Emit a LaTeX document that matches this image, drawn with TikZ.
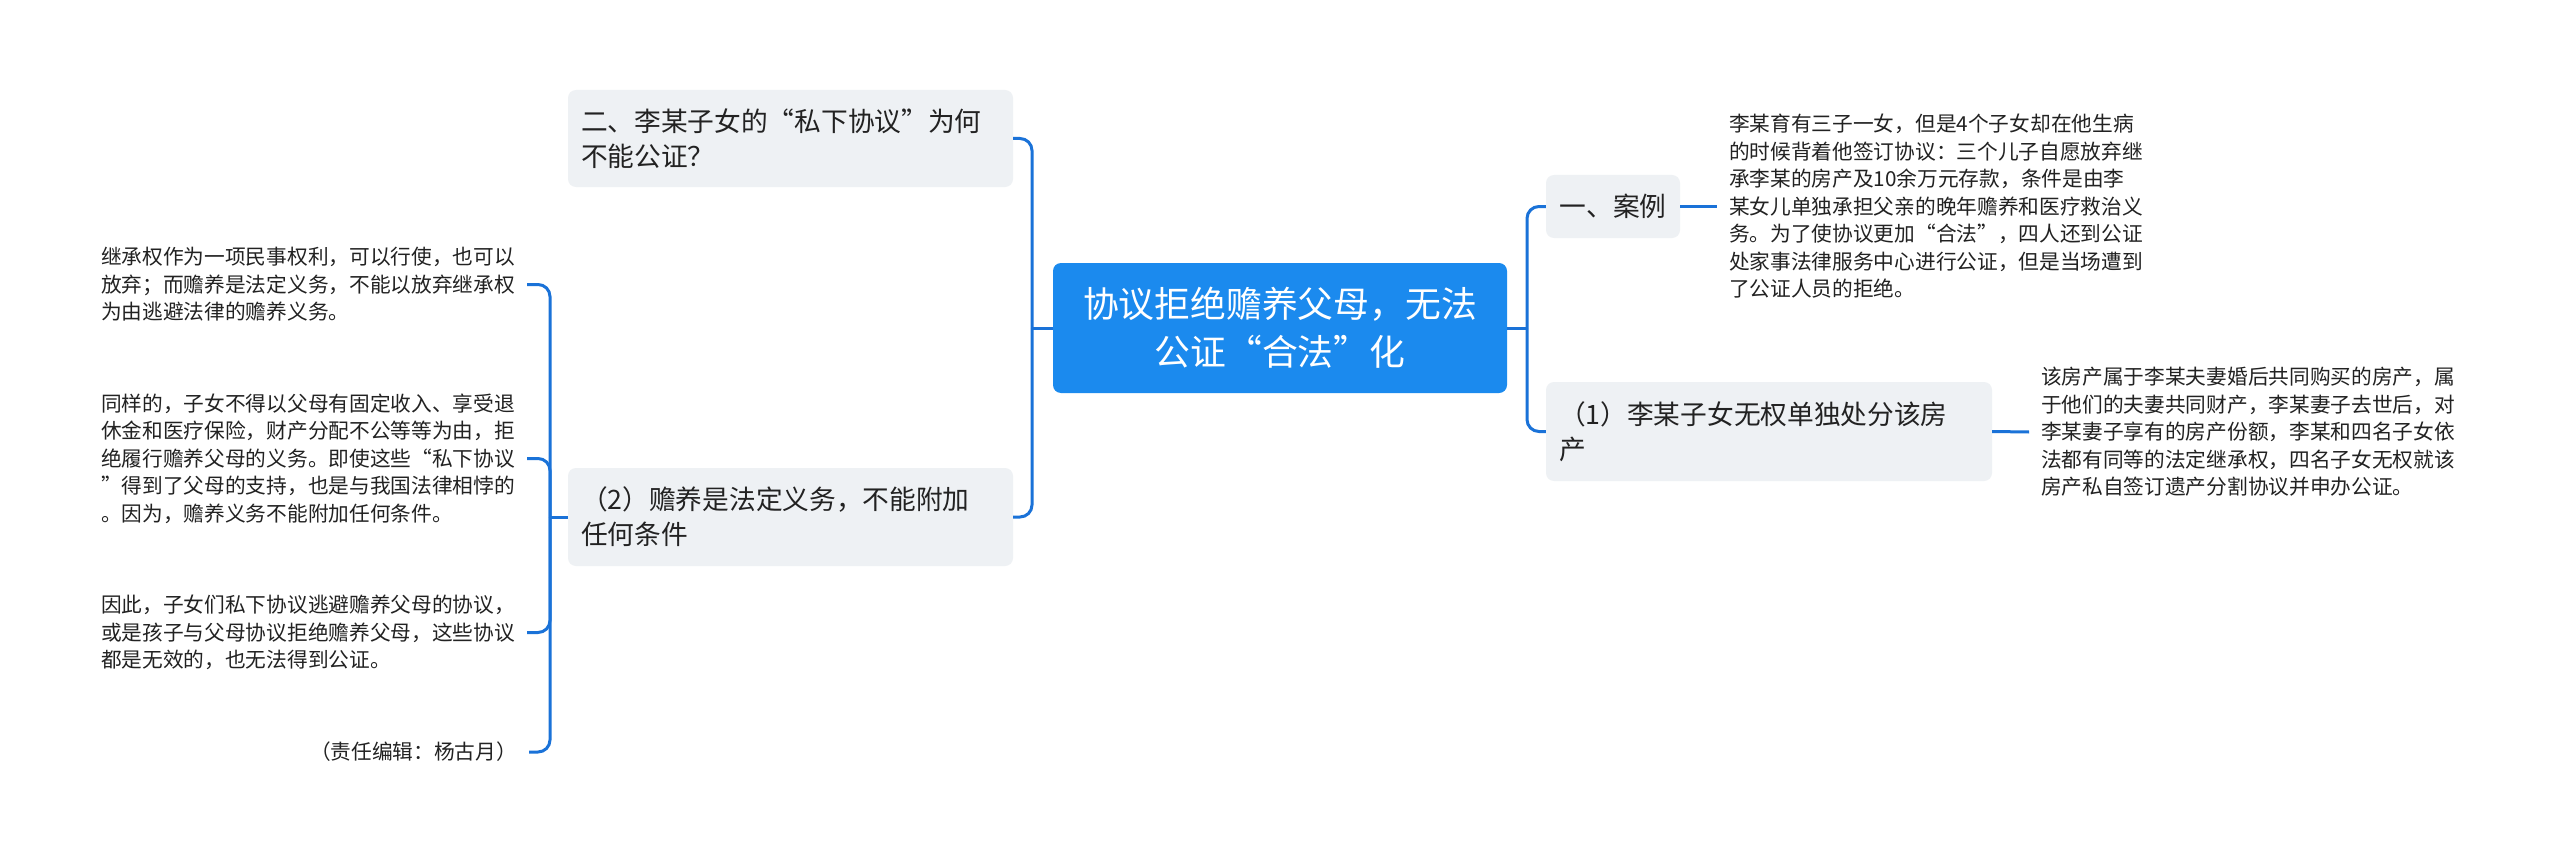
\documentclass[tikz,border=0pt]{standalone}
\usepackage{fontspec}
\setmainfont{Noto Sans CJK SC}
\definecolor{rootc}{HTML}{1B8AEE}
\definecolor{linec}{HTML}{1A72D8}
\definecolor{boxc}{HTML}{EEF1F4}
\definecolor{txtc}{HTML}{222222}
\tikzset{
  conn/.style={draw=linec, line width=3pt, rounded corners=12pt},
  rootbox/.style={fill=rootc, rounded corners=8pt, text=white, font=\fontsize{35.8}{48}\selectfont, align=center, minimum width=454pt, minimum height=130pt, inner sep=0pt},
  topicbox/.style={fill=boxc, rounded corners=8pt, text=txtc, font=\fontsize{26.7}{35}\selectfont, align=left, inner xsep=13pt, inner ysep=0pt},
  leaftext/.style={text=txtc, font=\fontsize{20.7}{27.5}\selectfont, align=left, inner sep=0pt, outer xsep=12pt, outer ysep=0pt},
}
\begin{document}
\begin{tikzpicture}[x=1pt, y=-1pt]
\useasboundingbox[fill=white] (0,0) rectangle (2560,864);

\node[rootbox] (root) at (1280,328) {协议拒绝赡养父母，无法\\公证“合法”化};

% left topics
\node[topicbox, minimum width=445pt, minimum height=97pt, text width=419pt] (q2) at (790.5,138.5) {二、李某子女的“私下协议”为何\\不能公证？};
\node[topicbox, minimum width=445pt, minimum height=98pt, text width=419pt] (p2) at (790.5,517) {（2）赡养是法定义务，不能附加\\任何条件};

% right topics
\node[topicbox, minimum width=134pt, minimum height=63pt, align=center] (case) at (1613,206.5) {一、案例};
\node[topicbox, minimum width=446pt, minimum height=99pt, text width=420pt] (p1) at (1769,431.5) {（1）李某子女无权单独处分该房\\产};

% left leaves
\node[leaftext, anchor=west] (l1) at (89,284.5) {继承权作为一项民事权利，可以行使，也可以\\放弃；而赡养是法定义务，不能以放弃继承权\\为由逃避法律的赡养义务。};
\node[leaftext, anchor=west] (l2) at (89,458.5) {同样的，子女不得以父母有固定收入、享受退\\休金和医疗保险，财产分配不公等等为由，拒\\绝履行赡养父母的义务。即使这些“私下协议\\”得到了父母的支持，也是与我国法律相悖的\\。因为，赡养义务不能附加任何条件。};
\node[leaftext, anchor=west] (l3) at (89,632.5) {因此，子女们私下协议逃避赡养父母的协议，\\或是孩子与父母协议拒绝赡养父母，这些协议\\都是无效的，也无法得到公证。};
\node[leaftext, anchor=east, align=right] (ed) at (529,752) {（责任编辑：杨古月）};

% right leaves
\node[leaftext, anchor=west] (r1) at (1717,206.5) {李某育有三子一女，但是4个子女却在他生病\\的时候背着他签订协议：三个儿子自愿放弃继\\承李某的房产及10余万元存款，条件是由李\\某女儿单独承担父亲的晚年赡养和医疗救治义\\务。为了使协议更加“合法”，四人还到公证\\处家事法律服务中心进行公证，但是当场遭到\\了公证人员的拒绝。};
\node[leaftext, anchor=west] (r2) at (2029,432) {该房产属于李某夫妻婚后共同购买的房产，属\\于他们的夫妻共同财产，李某妻子去世后，对\\李某妻子享有的房产份额，李某和四名子女依\\法都有同等的法定继承权，四名子女无权就该\\房产私自签订遗产分割协议并申办公证。};

% connectors: root
\coordinate (lj) at (1032,328);
\coordinate (rj) at (1527,328);
\draw[conn] (root.west) -- (lj);
\draw[conn] (lj) |- (q2.east);
\draw[conn] (lj) |- (p2.east);
\draw[conn] (root.east) -- (rj);
\draw[conn] (rj) |- (case.west);
\draw[conn] (rj) |- (p1.west);

% connectors: p2 children
\coordinate (lj2) at (550,517);
\draw[conn] (p2.west) -- (lj2);
\draw[conn] (lj2) |- (l1.east);
\draw[conn] (lj2) |- (l2.east);
\draw[conn] (lj2) |- (l3.east);
\draw[conn] (lj2) |- (ed.east);

% connectors: right leaves
\draw[conn] (case.east) -- (r1.west);
\draw[conn] (p1.east) -- (r2.west);
\end{tikzpicture}
\end{document}
